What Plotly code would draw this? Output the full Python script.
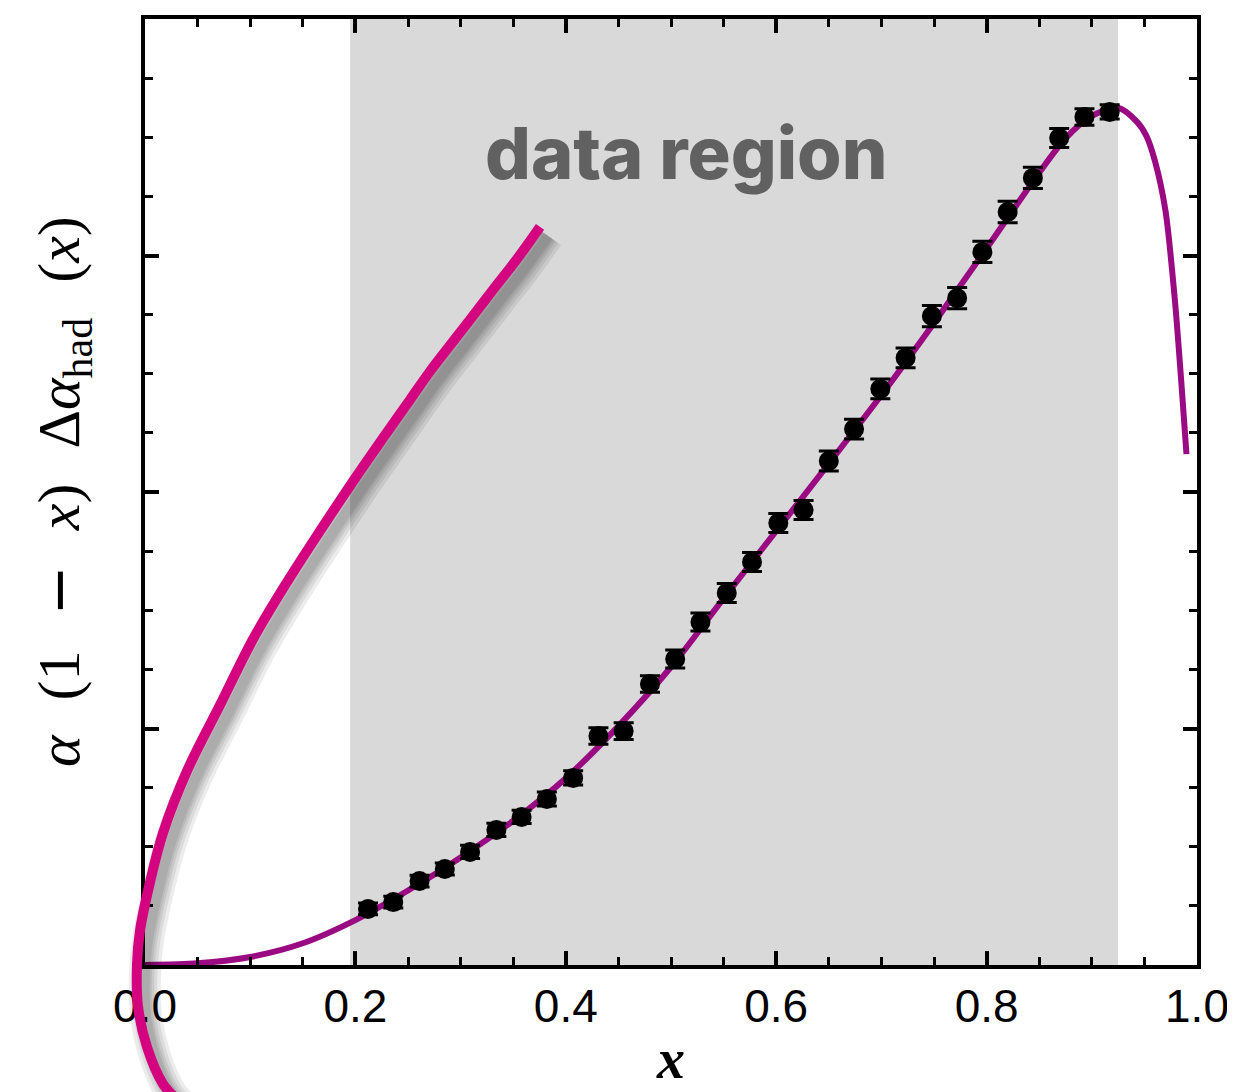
import plotly.graph_objects as go

# ---------------- data ----------------
data_x = [0.212, 0.236, 0.261, 0.285, 0.309, 0.334, 0.358, 0.382, 0.407, 0.431,
          0.455, 0.480, 0.504, 0.528, 0.553, 0.577, 0.602, 0.626, 0.650, 0.674,
          0.699, 0.723, 0.748, 0.772, 0.796, 0.820, 0.844, 0.869, 0.893, 0.917]
data_y = [0.237, 0.266, 0.355, 0.406, 0.478, 0.571, 0.626, 0.702, 0.791, 0.968,
          0.989, 1.188, 1.294, 1.450, 1.573, 1.704, 1.869, 1.924, 2.131, 2.266,
          2.436, 2.567, 2.744, 2.820, 3.015, 3.184, 3.328, 3.497, 3.586, 3.607]
data_err = [0.025, 0.025, 0.025, 0.025, 0.028, 0.028, 0.028, 0.030, 0.030, 0.035,
            0.035, 0.035, 0.038, 0.038, 0.040, 0.040, 0.040, 0.040, 0.042, 0.042,
            0.042, 0.042, 0.045, 0.045, 0.045, 0.045, 0.045, 0.040, 0.035, 0.030]

fit_x = [0.0, 0.05, 0.10, 0.15, 0.20, 0.25, 0.30, 0.35, 0.40, 0.45, 0.50, 0.55,
         0.60, 0.65, 0.70, 0.75, 0.80, 0.85, 0.875, 0.90, 0.925, 0.943, 0.952,
         0.960, 0.970, 0.979, 0.985, 0.990]
fit_y = [0.0, 0.007, 0.034, 0.092, 0.190, 0.315, 0.455, 0.610, 0.790, 1.010, 1.260,
         1.550, 1.835, 2.120, 2.410, 2.715, 3.030, 3.350, 3.495, 3.590, 3.625, 3.565,
         3.505, 3.400, 3.190, 2.810, 2.470, 2.160]

sketch_x = [0.3755, 0.3536, 0.3308, 0.3089, 0.2899, 0.2709, 0.2519, 0.2329, 0.2139,
            0.1977, 0.1663, 0.1350, 0.1027, 0.0713, 0.0399, 0.0171, 0.0048, -0.0048,
            -0.0076, -0.0067, 0.0019, 0.0171, 0.0285]
sketch_y = [3.121, 2.985, 2.855, 2.728, 2.620, 2.510, 2.390, 2.270, 2.150,
            2.045, 1.835, 1.619, 1.378, 1.099, 0.820, 0.558, 0.351, 0.144,
            0.004, -0.173, -0.347, -0.503, -0.560]

region = [0.195, 0.925]
xtick_vals = [0.0, 0.2, 0.4, 0.6, 0.8, 1.0]
xtick_text = ["0.0", "0.2", "0.4", "0.6", "0.8", "1.0"]

# ---------------- geometry (page has an 8px body margin) ----------------
OFF = 8
W, H = 1235 - OFF, 1092 - OFF
L, R, T, B = 145 - OFF, 1197 - OFF, 19 - OFF, 965 - OFF
YMAX = 4.0
xdom = [L / W, R / W]
ydom = [(H - B) / H, (H - T) / H]
px_per_x = (R - L) / 1.0
px_per_y = (B - T) / YMAX
x2_range = [-L / px_per_x, (W - L) / px_per_x]
y2_range = [-(H - B) / px_per_y, B / px_per_y]

fig = go.Figure()

# shaded data region
fig.add_shape(type="rect", xref="x", yref="y", x0=region[0], x1=region[1],
              y0=0, y1=YMAX, fillcolor="#D9D9D9", line=dict(width=0), layer="below")

# fit curve
fig.add_trace(go.Scatter(x=fit_x, y=fit_y, mode="lines",
                         line=dict(color="#9A0A82", width=6, shape="spline", smoothing=0.8),
                         xaxis="x", yaxis="y", hoverinfo="skip"))

# data points
fig.add_trace(go.Scatter(x=data_x, y=data_y, mode="markers",
                         marker=dict(color="black", size=20),
                         error_y=dict(type="data", array=data_err, color="black",
                                      thickness=3, width=10),
                         xaxis="x", yaxis="y", hoverinfo="skip"))

# sketch curve shadow (offset a few px right/down, soft layers)
dx = 8 / px_per_x
dy = -9 / px_per_y
for w in [32, 25, 19, 14, 10]:
    fig.add_trace(go.Scatter(x=[v + dx for v in sketch_x], y=[v + dy for v in sketch_y],
                             mode="lines",
                             line=dict(color="rgba(0,0,0,0.075)", width=w, shape="spline"),
                             xaxis="x2", yaxis="y2", hoverinfo="skip"))
# sketch curve
fig.add_trace(go.Scatter(x=sketch_x, y=sketch_y, mode="lines",
                         line=dict(color="#D4037F", width=10, shape="spline"),
                         xaxis="x2", yaxis="y2", hoverinfo="skip"))

axis_common = dict(showline=True, linewidth=4, linecolor="black", mirror="allticks",
                   ticks="inside", tickcolor="black", showgrid=False, zeroline=False,
                   automargin=False)

fig.update_layout(
    width=W, height=H, autosize=False,
    margin=dict(l=0, r=0, t=0, b=0, pad=0),
    paper_bgcolor="white", plot_bgcolor="rgba(0,0,0,0)",
    showlegend=False, hovermode=False,
    xaxis=dict(domain=xdom, range=[0, 1], anchor="y",
               tickmode="array", tickvals=xtick_vals, ticktext=xtick_text,
               ticklen=14, tickwidth=3.5,
               minor=dict(dtick=0.05, ticklen=8, tickwidth=3, ticks="inside", tickcolor="black"),
               tickfont=dict(family="Liberation Sans, Arial", size=46, color="black"),
               ticklabelstandoff=-2,
               **axis_common),
    yaxis=dict(domain=ydom, range=[0, YMAX], anchor="x",
               dtick=1, tick0=0, ticklen=14, tickwidth=3.5, showticklabels=False,
               minor=dict(dtick=0.25, ticklen=8, tickwidth=3, ticks="inside", tickcolor="black"),
               **axis_common),
    xaxis2=dict(domain=[0, 1], range=x2_range, anchor="y2", visible=False,
                fixedrange=True, automargin=False),
    yaxis2=dict(domain=[0, 1], range=y2_range, anchor="x2", visible=False,
                fixedrange=True, automargin=False),
)

serif = "Liberation Serif, Times New Roman, serif"
sp = "\u2002\u200a"
minus = "<span style=\"font-family:'DejaVu Sans'\">−</span>"
fig.add_annotation(
    text=f"<i>α</i>{sp}(1{sp}{minus}{sp}<i>x</i>){sp}Δ<i>α</i><sub>had</sub>{sp}(<i>x</i>)",
    xref="paper", yref="paper", x=(62 - OFF) / W, y=(H - (492 - OFF)) / H,
    xanchor="center", yanchor="middle", textangle=-90, showarrow=False,
    font=dict(family=serif, size=60, color="black"))
fig.add_annotation(
    text="<b><i>x</i></b>", xref="paper", yref="paper", x=(670 - OFF) / W, y=0,
    xanchor="center", yanchor="bottom", showarrow=False,
    font=dict(family=serif, size=56, color="black"))
fig.add_annotation(
    text="data region", xref="x", yref="y", x=(686 - 145) / 1052, y=(965 - 152) / 946 * YMAX,
    xanchor="center", yanchor="middle", showarrow=False,
    font=dict(family="Inter", size=72, color="#616161", weight=800))

fig.write_html("out.html")
